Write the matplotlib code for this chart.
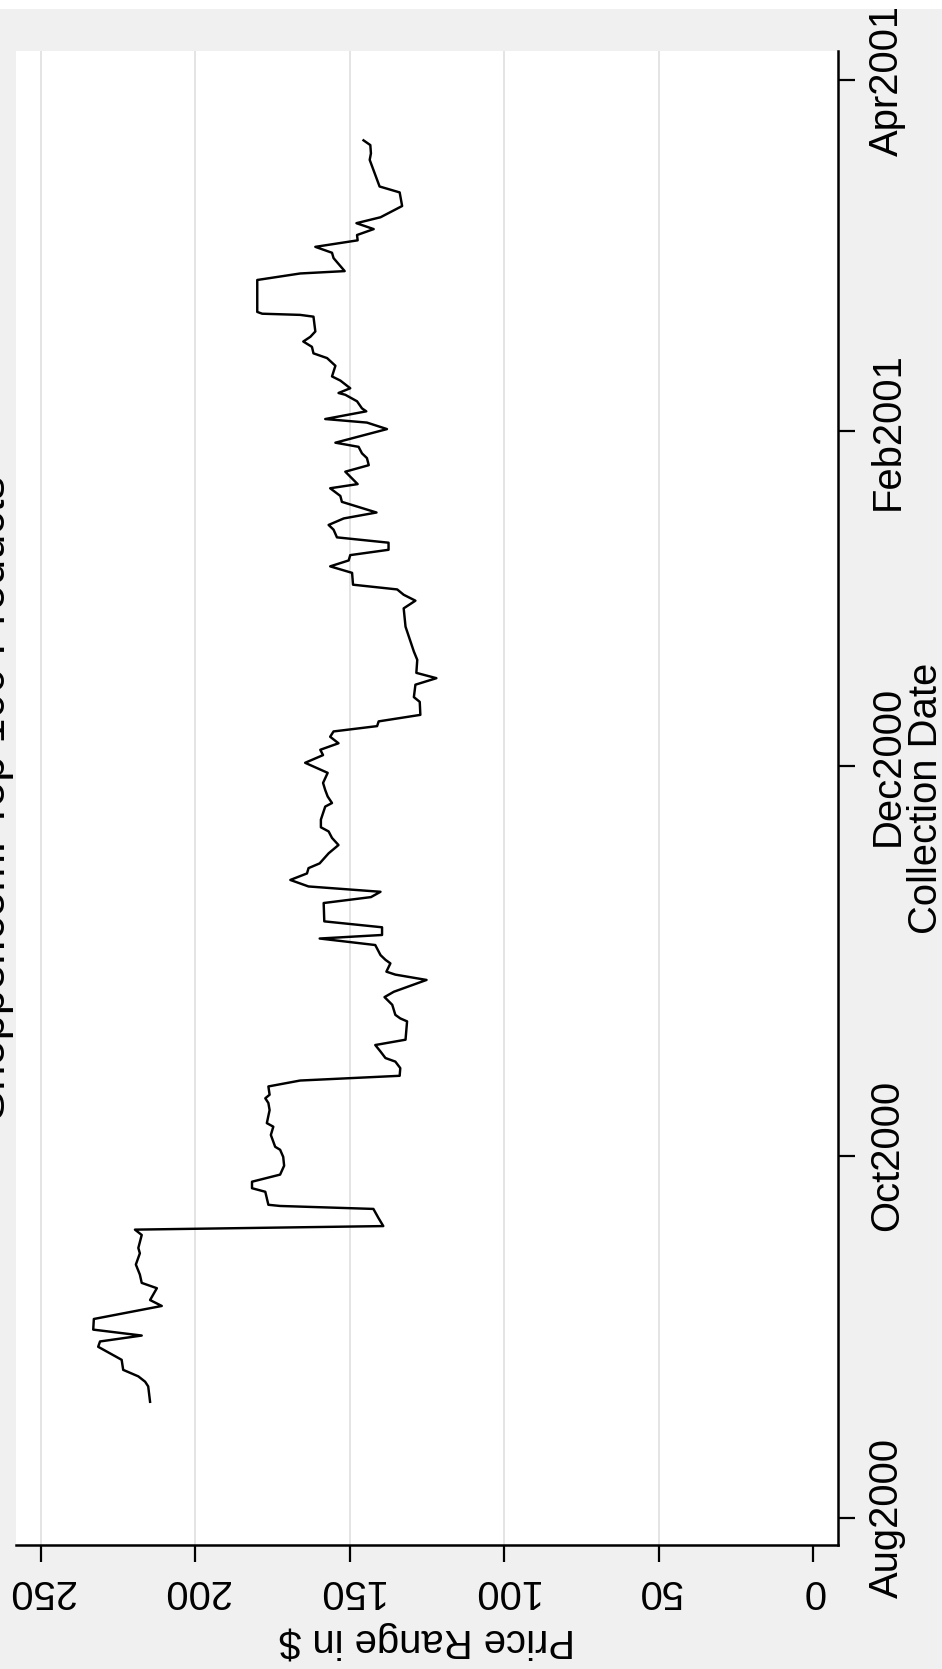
import matplotlib
matplotlib.use("Agg")
import matplotlib.pyplot as plt
from matplotlib.patches import Rectangle

# Stata-style chart that was saved rotated a quarter turn:
# price runs across (250 on the left, 0 on the right), collection date runs upward

plt.rcParams['font.family'] = ['Liberation Sans', 'DejaVu Sans']

# collection day, counted from the Aug2000 tick, and price range in $
day = [19.6, 22.2, 23.0, 23.9, 25.0, 26.7, 28.9, 29.8, 30.8, 31.8,
       33.6, 35.8, 36.8, 38.8, 39.7, 41.1, 42.8, 44.7, 45.6, 47.8,
       48.7, 49.3, 50.7, 52.2, 52.7, 52.9, 55.1, 55.7, 56.8, 58.0,
       59.5, 61.0, 62.2, 62.7, 64.7, 66.1, 66.7, 68.9, 70.1, 70.9,
       71.5, 72.9, 73.9, 74.7, 76.0, 77.1, 77.7, 78.8, 79.9, 80.8,
       83.9, 84.4, 85.0, 86.7, 88.0, 88.9, 90.9, 91.8, 92.3, 93.7,
       94.3, 95.1, 96.8, 97.9, 98.5, 99.8, 100.8, 103.9, 104.9, 105.8,
       106.7, 107.8, 108.9, 109.8, 110.6, 112.3, 113.7, 114.9, 116.0, 116.7,
       118.0, 119.7, 120.2, 120.8, 121.9, 123.0, 124.2, 125.9, 127.6, 128.9,
       129.8, 130.9, 132.0, 132.9, 133.8, 134.6, 135.7, 137.9, 138.7, 140.8,
       141.9, 142.8, 145.0, 146.4, 150.6, 153.7, 155.0, 156.0, 156.9, 157.7,
       159.7, 160.8, 161.8, 162.7, 163.6, 164.8, 165.7, 167.0, 167.8, 168.9,
       169.9, 171.7, 172.7, 174.0, 174.7, 176.8, 177.9, 179.1, 179.9, 181.0,
       181.7, 184.0, 185.1, 185.7, 187.0, 187.5, 188.7, 189.8, 190.1, 190.9,
       192.2, 192.9, 194.7, 196.0, 196.8, 197.9, 198.8, 199.6, 200.5, 203.0,
       203.3, 203.5, 203.8, 209.2, 210.3, 210.7, 212.9, 213.8, 214.8, 215.9,
       216.8, 217.8, 218.8, 219.8, 221.7, 224.0, 225.0, 229.5, 230.6, 232.0,
       232.8]
price = [214.7, 215.3, 216.3, 218.5, 223.4, 223.9, 231.5, 230.9, 217.4, 233.1,
         232.9, 210.9, 214.7, 212.5, 217.4, 218.0, 219.3, 218.0, 218.5, 217.4,
         219.6, 139.2, 140.8, 142.4, 172.6, 176.4, 177.4, 181.7, 181.7, 172.6,
         171.3, 171.6, 172.6, 174.2, 175.6, 174.8, 176.9, 176.0, 176.4, 177.4,
         176.0, 176.4, 166.1, 133.9, 133.7, 135.3, 138.5, 140.1, 141.8, 132.0,
         131.5, 133.7, 135.3, 136.3, 138.8, 135.8, 125.2, 135.3, 138.2, 136.9,
         138.5, 140.1, 141.8, 159.8, 139.6, 139.6, 158.3, 158.5, 143.2, 140.1,
         163.4, 169.3, 163.9, 163.4, 159.8, 156.9, 153.7, 155.8, 156.9, 159.4,
         159.4, 158.3, 158.0, 155.8, 157.2, 158.0, 158.7, 157.2, 164.5, 158.7,
         159.6, 153.7, 156.4, 155.3, 141.2, 140.7, 127.2, 127.4, 129.3, 128.8,
         122.0, 128.5, 128.2, 129.3, 132.0, 132.6, 128.8, 132.6, 134.7, 149.0,
         149.3, 156.4, 150.4, 149.9, 137.5, 137.5, 154.2, 155.3, 156.9, 152.0,
         141.4, 152.6, 153.1, 156.4, 147.5, 151.5, 143.9, 144.5, 146.1, 147.2,
         154.7, 138.0, 144.5, 158.0, 144.7, 146.1, 147.7, 151.5, 153.7, 149.9,
         153.1, 155.8, 154.7, 157.4, 161.8, 162.3, 165.1, 162.8, 161.2, 161.8,
         166.1, 178.4, 180.0, 180.0, 166.1, 151.7, 155.3, 155.8, 161.2, 147.5,
         147.7, 142.3, 147.9, 140.1, 133.1, 133.9, 140.4, 143.6, 143.2, 143.4,
         145.6]

price_ticks = [0, 50, 100, 150, 200, 250]
date_ticks = [0, 61.2, 127.1, 183.7, 243.0]
date_labels = ["Aug2000", "Oct2000", "Dec2000", "Feb2001", "Apr2001"]

title = "Shopper.com: Top 100 Products"
xtitle = "Collection Date"
ytitle = "Price Range in $"

W, H = 942, 1669
fig = plt.figure(figsize=(W / 100, H / 100), dpi=100, facecolor="#F0F0F0")
# thin white band along the top edge
fig.patches.append(Rectangle((0, 1 - 9 / H), 1, 9 / H, transform=fig.transFigure,
                             facecolor="white", edgecolor="none", zorder=0))

ax = fig.add_axes([16 / W, 1 - 1545 / H, (838 - 16) / W, (1545 - 51) / H])
ax.set_facecolor("white")

ax.plot(price, day, color="black", linewidth=1.75, solid_joinstyle="round", zorder=3)

ax.set_xlim(258.1, -8.0)
ax.set_ylim(-4.6, 247.9)

ax.set_xticks(price_ticks)
ax.set_xticklabels([str(v) for v in price_ticks], rotation=180, va="top", ha="center")
ax.set_yticks(date_ticks)
ax.yaxis.tick_right()
ax.set_yticklabels(date_labels, rotation=90, va="center", ha="left")

ax.grid(axis="x", color="#E4E4E4", linewidth=1.4, zorder=0)
ax.xaxis.get_gridlines()[0].set_visible(False)
ax.set_axisbelow(True)

for s in ["top", "left"]:
    ax.spines[s].set_visible(False)
for s in ["bottom", "right"]:
    ax.spines[s].set_linewidth(1.8)
    ax.spines[s].set_color("black")

ax.tick_params(axis="x", direction="out", length=12.5, width=1.6, pad=7, labelsize=28.8)
ax.tick_params(axis="y", direction="out", length=12.5, width=1.6, pad=9.4, labelsize=28.8,
               left=False, right=True)

fig.text(907 / W, 1 - 798 / H, xtitle, rotation=90, ha="left", va="center", fontsize=28.8)
fig.text(427 / W, 1 - 1621 / H, ytitle, rotation=180, ha="center", va="top", fontsize=28.8)
fig.text(14 / W, 1 - 798 / H, title, rotation=90, ha="right", va="center", fontsize=32.7)

fig.savefig("out.png", dpi=100, facecolor=fig.get_facecolor())
